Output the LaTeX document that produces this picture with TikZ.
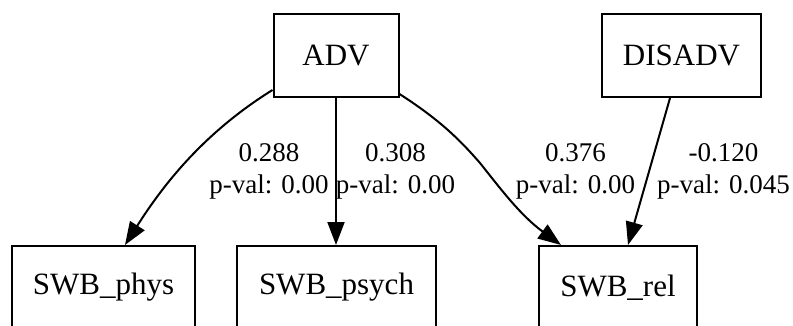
\documentclass[tikz,border=0pt]{standalone}
\usepackage{fontspec}
\setmainfont{Liberation Serif}
\usetikzlibrary{arrows.meta,calc}
\tikzset{
  box/.style={draw=black, line width=2pt, inner sep=0pt, minimum height=83pt,
    font=\fontsize{31}{36}\selectfont},
  lbl/.style={align=center, inner sep=0pt, font=\fontsize{27}{32}\selectfont},
  edge/.style={draw=black, line width=2pt, -{Triangle[length=23pt,width=17pt]}},
}
\begin{document}
\begin{tikzpicture}[x=1pt,y=-1pt]
\useasboundingbox (0,0) rectangle (793,325);
\clip (0,0) rectangle (793,325);
\node[box, minimum width=125pt] (adv) at (336,55.5) {ADV};
\node[box, minimum width=159pt] (disadv) at (681.5,55.5) {DISADV};
\node[box, minimum width=183pt] (phys) at (103.5,287.5) {SWB\_phys};
\node[box, minimum width=199pt] (psych) at (336.5,287.5) {SWB\_psych};
\node[box, minimum width=158pt] (rel) at (618,287.5) {SWB\_rel};

\draw[edge] ($(adv.south west)+(0,-8)$) .. controls (200,135) and (160,190) .. ($(phys.north west)+(114,0)$);
\draw[edge] (adv.south) -- (adv.south |- psych.north);
\draw[edge] ($(adv.south east)+(0,-4)$) .. controls (440,120) and (460,140) .. (480,163)
   .. controls (500,188) and (520,215) .. ($(rel.north west)+(23,0)$);
\draw[edge] ($(disadv.south)+(-11.5,0)$) -- ($(rel.north)+(10,0)$);

\node[lbl] (l1) at (269,171) {0.288\\p-val: 0.00};
\node[lbl] (l2) at (395.5,171) {0.308\\p-val: 0.00};
\node[lbl] (l3) at (575.5,171) {0.376\\p-val: 0.00};
\node[lbl] (l4) at (723.5,171) {-0.120\\p-val: 0.045};
\end{tikzpicture}
\end{document}
